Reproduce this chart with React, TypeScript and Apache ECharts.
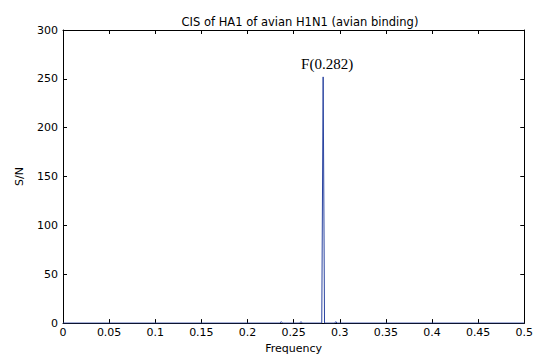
import React, { useEffect, useRef } from "react";
import * as echarts from "echarts";

const titleText = "CIS of HA1 of avian H1N1 (avian binding)";
const xName = "Frequency";
const yName = "S/N";
const peakLabel = "F(0.282)";
const peakFreq = 0.282;
const peakValue = 252;

// spectrum samples (frequency, signal-to-noise)
const freq = [0, 0.235, 0.2366, 0.238, 0.2565, 0.258, 0.2595, 0.2805, 0.282, 0.2835, 0.2945, 0.2957, 0.297, 0.5];
const sn = [0, 0, 1.5, 0, 0, 1.5, 0, 0, 252, 0, 0, 1.5, 0, 0];

const xMin = 0, xMax = 0.5, xStep = 0.05;
const yMin = 0, yMax = 300, yStep = 50;

export default function App() {
  const ref = useRef<HTMLDivElement>(null);
  useEffect(() => {
    if (!ref.current) return;
    const chart = echarts.init(ref.current, undefined, { renderer: "svg" });
    const font = "DejaVu Sans";
    const axisCommon = {
      axisLine: { show: true, onZero: false, lineStyle: { color: "#000", width: 1 } },
      axisTick: { show: true, inside: true, length: 4, lineStyle: { color: "#000" } },
      splitLine: { show: false },
    };
    chart.setOption({
      animation: false,
      backgroundColor: "#fff",
      title: {
        text: titleText,
        left: 295,
        top: 11,
        textAlign: "center",
        textStyle: { fontFamily: font, fontSize: 11.5, fontWeight: "normal", color: "#000" },
      },
      grid: { left: 63, right: 7, top: 30, bottom: 29 },
      xAxis: [
        {
          type: "value",
          min: xMin,
          max: xMax,
          interval: xStep,
          position: "bottom",
          name: xName,
          nameLocation: "middle",
          nameGap: 17,
          nameTextStyle: { fontFamily: font, fontSize: 11, color: "#000" },
          axisLabel: { fontFamily: font, fontSize: 11, color: "#000", margin: 4 },
          ...axisCommon,
        },
        {
          type: "value",
          min: xMin,
          max: xMax,
          interval: xStep,
          position: "top",
          axisLabel: { show: false },
          ...axisCommon,
        },
      ],
      yAxis: [
        {
          type: "value",
          min: yMin,
          max: yMax,
          interval: yStep,
          position: "left",
          name: yName,
          nameLocation: "middle",
          nameGap: 38,
          nameRotate: 90,
          nameTextStyle: { fontFamily: font, fontSize: 11, color: "#000" },
          axisLabel: { fontFamily: font, fontSize: 11, color: "#000", margin: 5 },
          ...axisCommon,
        },
        {
          type: "value",
          min: yMin,
          max: yMax,
          interval: yStep,
          position: "right",
          axisLabel: { show: false },
          ...axisCommon,
        },
      ],
      series: [
        {
          type: "line",
          data: freq.map((f, i) => [f, sn[i]]),
          showSymbol: false,
          symbol: "none",
          lineStyle: { color: "#2a44a0", width: 1 },
          z: 5,
          markPoint: {
            symbol: "circle",
            symbolSize: 0,
            data: [{ coord: [peakFreq, peakValue], value: peakLabel }],
            label: {
              show: true,
              position: "top",
              distance: 5,
              offset: [4, 0],
              formatter: peakLabel,
              fontFamily: "Liberation Serif",
              fontSize: 15,
              color: "#000",
            },
          },
        },
      ],
    });
    return () => chart.dispose();
  }, []);
  return (
    <div
      ref={ref}
      style={{ position: "fixed", left: 0, top: 0, width: 536, height: 359 }}
    />
  );
}
